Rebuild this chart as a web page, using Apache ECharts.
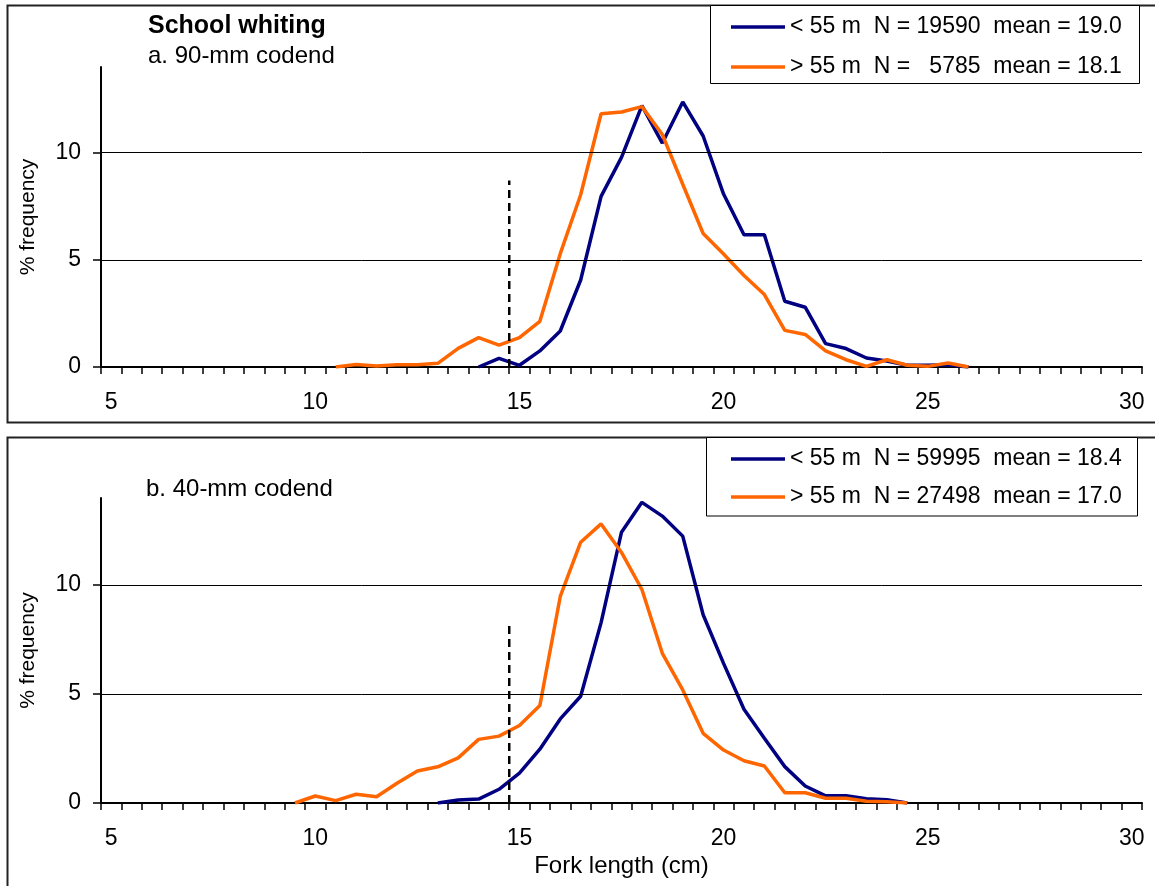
<!DOCTYPE html>
<html>
<head>
<meta charset="utf-8">
<script src="https://cdn.jsdelivr.net/npm/echarts@6/dist/echarts.min.js"></script>
<style>
html,body{margin:0;padding:0;background:#fff;}
#chart{width:1155px;height:886px;}
</style>
</head>
<body>
<div id="chart"></div>
<script>
// Fork length classes (cm)
const categories = ["5","5.5","6","6.5","7","7.5","8","8.5","9","9.5","10","10.5","11","11.5","12","12.5","13","13.5","14","14.5","15","15.5","16","16.5","17","17.5","18","18.5","19","19.5","20","20.5","21","21.5","22","22.5","23","23.5","24","24.5","25","25.5","26","26.5","27","27.5","28","28.5","29","29.5","30"];
const yTicks = [0, 5, 10];

// a. 90-mm codend
const topBlueName = "< 55 m  N = 19590  mean = 19.0";
const topBlueStart = "14";
const topBlue = [0,0.4,0.08,0.75,1.68,4.06,7.96,9.78,12.2,10.45,12.37,10.78,8.07,6.17,6.17,3.07,2.79,1.09,0.86,0.42,0.28,0.08,0.08,0.1,0];
const topOrangeName = "> 55 m  N =   5785  mean = 18.1";
const topOrangeStart = "10.5";
const topOrange = [0,0.12,0.05,0.1,0.1,0.17,0.87,1.37,1.02,1.37,2.13,5.29,8.04,11.82,11.9,12.15,10.85,8.53,6.23,5.27,4.27,3.38,1.71,1.52,0.75,0.34,0.03,0.34,0.08,0.03,0.19,0];

// b. 40-mm codend
const botBlueName = "< 55 m  N = 59995  mean = 18.4";
const botBlueStart = "13";
const botBlue = [0,0.14,0.18,0.63,1.37,2.47,3.86,4.9,8.28,12.43,13.8,13.17,12.25,8.64,6.41,4.3,2.97,1.67,0.78,0.33,0.33,0.2,0.15,0];
const botOrangeName = "> 55 m  N = 27498  mean = 17.0";
const botOrangeStart = "9.5";
const botOrange = [0,0.32,0.11,0.4,0.29,0.91,1.47,1.66,2.07,2.92,3.07,3.56,4.47,9.48,11.97,12.81,11.5,9.8,6.87,5.19,3.2,2.43,1.94,1.7,0.47,0.47,0.22,0.22,0.08,0.06,0];

// minimum length reference line (cm) and its height (% frequency)
const refLength = 14.75;
const topRefHeight = 8.7;
const botRefHeight = 8.35;

function pad(start, vals) {
  const out = categories.map(() => null);
  const i0 = categories.indexOf(start);
  vals.forEach((v, k) => { out[i0 + k] = v; });
  return out;
}

const FONT = '"Liberation Sans", Arial, sans-serif';
const BLUE = '#000080';
const ORANGE = '#FF6600';

function catAxis(gridIndex, withName) {
  const ax = {
    type: 'category', gridIndex, data: categories, boundaryGap: true,
    axisLine: { show: true, lineStyle: { color: '#000', width: 2 } },
    axisTick: { show: true, interval: 0, alignWithLabel: false, length: 7, lineStyle: { color: '#000', width: 1.5 } },
    axisLabel: { interval: 9, margin: 24, color: '#000', fontSize: 23, fontFamily: FONT },
    splitLine: { show: false }
  };
  if (withName) {
    ax.name = 'Fork length (cm)';
    ax.nameLocation = 'middle';
    ax.nameGap = 51;
    ax.nameTextStyle = { color: '#000', fontSize: 24, fontFamily: FONT };
  }
  return ax;
}
function hiddenX(gridIndex) {
  return { type: 'value', gridIndex, show: false, min: 4.75, max: 30.25, splitLine: { show: false } };
}
function yAx(gridIndex) {
  return {
    type: 'value', gridIndex, min: 0, max: 14, interval: 5,
    name: '% frequency', nameLocation: 'middle', nameGap: 62, nameRotate: 90,
    nameTextStyle: { color: '#000', fontSize: 21, fontFamily: FONT },
    axisLine: { show: true, lineStyle: { color: '#000', width: 2 } },
    axisTick: { show: true, length: 8, customValues: yTicks, lineStyle: { color: '#000', width: 1.5 } },
    axisLabel: { customValues: yTicks, margin: 20, color: '#000', fontSize: 23, fontFamily: FONT },
    splitLine: { show: false }
  };
}
function gridSeries(xi, yi) {
  return {
    type: 'line', xAxisIndex: xi, yAxisIndex: yi, z: 1, silent: true,
    data: [[4.75, 0], [30.25, 0]], symbol: 'none', lineStyle: { opacity: 0 },
    markLine: { silent: true, symbol: ['none', 'none'], label: { show: false },
      lineStyle: { type: 'solid', color: '#000', width: 1 },
      data: yTicks.filter(v => v > 0).map(v => ({ yAxis: v })) }
  };
}
function refSeries(xi, yi, h) {
  return {
    type: 'line', xAxisIndex: xi, yAxisIndex: yi, z: 5, silent: true, symbol: 'none',
    data: [[refLength, 0], [refLength, h]],
    lineStyle: { color: '#000', width: 2.5, type: [8, 5] }
  };
}
function dataSeries(name, xi, yi, vals, color) {
  return {
    name, type: 'line', xAxisIndex: xi, yAxisIndex: yi, z: 3, data: vals,
    symbol: 'none', showSymbol: false, connectNulls: false,
    lineStyle: { color, width: 3.5 }, itemStyle: { color }
  };
}
function legend(names, top, gap) {
  return {
    orient: 'vertical', left: 731, top, padding: 0, itemGap: gap,
    icon: 'rect', itemWidth: 54, itemHeight: 3.5, data: names,
    itemStyle: { borderWidth: 0 }, lineStyle: { width: 0 },
    textStyle: { color: '#000', fontSize: 23, fontFamily: FONT, lineHeight: 24 }
  };
}

const chart = echarts.init(document.getElementById('chart'), null, { renderer: 'canvas' });
chart.setOption({
  animation: false,
  backgroundColor: '#fff',
  grid: [
    { left: 101, right: 13, top: 67, height: 300, containLabel: false },
    { left: 101, right: 13, top: 498, height: 305, containLabel: false }
  ],
  xAxis: [catAxis(0, false), catAxis(1, true), hiddenX(0), hiddenX(1)],
  yAxis: [yAx(0), yAx(1)],
  title: [
    { text: 'School whiting', left: 148, top: 14, padding: 0,
      textStyle: { color: '#000', fontSize: 25, fontWeight: 'bold', fontFamily: FONT } },
    { text: 'a. 90-mm codend', left: 148, top: 44, padding: 0,
      textStyle: { color: '#000', fontSize: 24, fontWeight: 'normal', fontFamily: FONT } },
    { text: 'b. 40-mm codend', left: 146, top: 477, padding: 0,
      textStyle: { color: '#000', fontSize: 24, fontWeight: 'normal', fontFamily: FONT } }
  ],
  legend: [legend([topBlueName, topOrangeName], 15, 16), legend([botBlueName, botOrangeName], 447, 14)],
  graphic: [
    { type: 'rect', silent: true, z: 0, shape: { x: 7.5, y: 5.5, width: 1170, height: 417 }, style: { fill: null, stroke: '#222', lineWidth: 2 } },
    { type: 'rect', silent: true, z: 0, shape: { x: 7.5, y: 437.5, width: 1170, height: 470 }, style: { fill: null, stroke: '#222', lineWidth: 2 } },
    { type: 'rect', silent: true, z: 0, shape: { x: 710.5, y: 5.5, width: 429, height: 78 }, style: { fill: '#fff', stroke: '#000', lineWidth: 1 } },
    { type: 'rect', silent: true, z: 0, shape: { x: 706.5, y: 437.5, width: 431, height: 78.5 }, style: { fill: '#fff', stroke: '#000', lineWidth: 1 } }
  ],
  series: [
    gridSeries(2, 0),
    gridSeries(3, 1),
    dataSeries(topBlueName, 0, 0, pad(topBlueStart, topBlue), BLUE),
    dataSeries(topOrangeName, 0, 0, pad(topOrangeStart, topOrange), ORANGE),
    dataSeries(botBlueName, 1, 1, pad(botBlueStart, botBlue), BLUE),
    dataSeries(botOrangeName, 1, 1, pad(botOrangeStart, botOrange), ORANGE),
    refSeries(2, 0, topRefHeight),
    refSeries(3, 1, botRefHeight)
  ]
});
</script>
</body>
</html>
